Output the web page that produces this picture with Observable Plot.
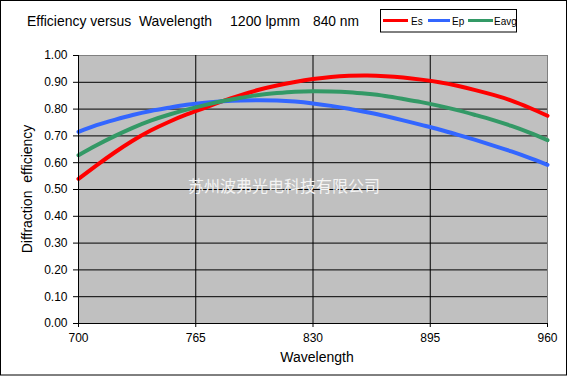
<!DOCTYPE html>
<html>
<head>
<meta charset="utf-8">
<script src="https://cdn.jsdelivr.net/npm/d3@7"></script>
<script src="https://cdn.jsdelivr.net/npm/@observablehq/plot@0.6"></script>
<style>
  html, body { margin: 0; padding: 0; background: #fff; }
  #chart { position: relative; width: 569px; height: 376px; }
</style>
</head>
<body>
<div id="chart"></div>
<script>
const wavelengths = [700,710,720,730,740,750,760,770,780,790,800,810,820,830,840,850,860,870,880,890,900,910,920,930,940,950,960];
const es   = [0.540,0.590,0.638,0.682,0.720,0.752,0.780,0.805,0.830,0.852,0.872,0.888,0.901,0.912,0.920,0.924,0.925,0.923,0.918,0.910,0.900,0.887,0.871,0.853,0.832,0.805,0.775];
const ep   = [0.715,0.740,0.760,0.778,0.793,0.805,0.816,0.824,0.829,0.832,0.833,0.832,0.828,0.821,0.812,0.801,0.788,0.774,0.758,0.741,0.724,0.705,0.685,0.664,0.642,0.618,0.592];
const eavg = [0.628,0.665,0.699,0.730,0.757,0.779,0.798,0.815,0.830,0.842,0.853,0.860,0.865,0.867,0.866,0.863,0.857,0.849,0.838,0.826,0.812,0.796,0.778,0.759,0.737,0.712,0.684];
const seriesNames = ["Es","Ep","Eavg"];
const seriesColors = ["#FF0000","#3366FF","#339966"];
const xTicks = [700,765,830,895,960];
const yTicks = [0,0.1,0.2,0.3,0.4,0.5,0.6,0.7,0.8,0.9,1.0];
const titleParts = ["Efficiency versus  Wavelength", "1200 lpmm", "840 nm"];
const xLabel = "Wavelength";
const yLabel = "Diffraction  efficiency";
const watermark = "苏州波弗光电科技有限公司";

const seriesValues = [es, ep, eavg];
const rows = [];
seriesNames.forEach((name, i) => {
  wavelengths.forEach((w, j) => rows.push({series: name, w, v: seriesValues[i][j]}));
});

const font = "Liberation Sans, Arial, sans-serif";

const plot = Plot.plot({
  width: 569,
  height: 376,
  marginLeft: 78,
  marginRight: 22,
  marginTop: 55,
  marginBottom: 53,
  style: {fontFamily: font, fontSize: "12px", color: "#000", background: "transparent"},
  x: {domain: [700, 960], ticks: xTicks, label: null},
  y: {domain: [0, 1], ticks: yTicks, label: null},
  color: {domain: seriesNames, range: seriesColors},
  marks: [
    Plot.frame({fill: "#C0C0C0", stroke: "#808080"}),
    Plot.ruleY(yTicks.slice(1, -1), {stroke: "#000", strokeWidth: 1}),
    Plot.ruleX(xTicks.slice(1, -1), {stroke: "#000", strokeWidth: 1}),
    Plot.text([watermark], {frameAnchor: "middle", dx: -29, dy: -3, fill: "#F4F4F4", fontSize: 16, fontFamily: "Noto Sans CJK SC", text: d => d}),
    Plot.line(rows, {x: "w", y: "v", z: "series", stroke: "series", strokeWidth: 4, curve: "natural"}),
    Plot.ruleX([700], {stroke: "#000"}),
    Plot.ruleY([0], {stroke: "#000"}),
    Plot.axisY({ticks: yTicks, tickFormat: d3.format(".2f"), tickSize: 5, tickPadding: 6, fontSize: 12, label: null}),
    Plot.axisX({ticks: xTicks, tickFormat: d => String(d), tickSize: 4, tickPadding: 6, fontSize: 12, label: null})
  ]
});

document.getElementById("chart").appendChild(plot);
const svg = d3.select(plot);

// outer frame
svg.insert("rect", ":first-child")
  .attr("x", 0.5).attr("y", 0.5).attr("width", 566).attr("height", 374.5)
  .attr("fill", "#fff").attr("stroke", "#000");

// title (three pieces, like the reference spacing)
const titlePos = [{x: 27, len: 185}, {x: 230, len: 70}, {x: 313, len: 46}];
titleParts.forEach((t, i) => {
  svg.append("text").attr("x", titlePos[i].x).attr("y", 26).attr("text-anchor", "start")
    .attr("font-family", font).attr("font-size", 15).attr("fill", "#000")
    .attr("textLength", titlePos[i].len).attr("lengthAdjust", "spacingAndGlyphs")
    .style("white-space", "pre")
    .text(t);
});

// axis labels
svg.append("text").attr("x", 317).attr("y", 362).attr("text-anchor", "middle")
  .attr("font-family", font).attr("font-size", 14).attr("fill", "#000")
  .text(xLabel);
svg.append("text").attr("transform", "translate(32,189) rotate(-90)").attr("text-anchor", "middle")
  .attr("font-family", font).attr("font-size", 14).attr("fill", "#000")
  .style("white-space", "pre")
  .text(yLabel);

// legend
const lg = svg.append("g");
lg.append("rect").attr("x", 380.5).attr("y", 9.5).attr("width", 136).attr("height", 22.5)
  .attr("fill", "#fff").attr("stroke", "#000");
const legendItems = [
  {x0: 383, x1: 408, tx: 411},
  {x0: 428, x1: 450, tx: 452},
  {x0: 468, x1: 493, tx: 494}
];
seriesNames.forEach((name, i) => {
  const it = legendItems[i];
  lg.append("line").attr("x1", it.x0).attr("x2", it.x1).attr("y1", 20.5).attr("y2", 20.5)
    .attr("stroke", seriesColors[i]).attr("stroke-width", 3);
  lg.append("text").attr("x", it.tx).attr("y", 24.5).attr("text-anchor", "start")
    .attr("font-family", font).attr("font-size", 10).attr("fill", "#000")
    .text(name);
});
</script>
</body>
</html>
